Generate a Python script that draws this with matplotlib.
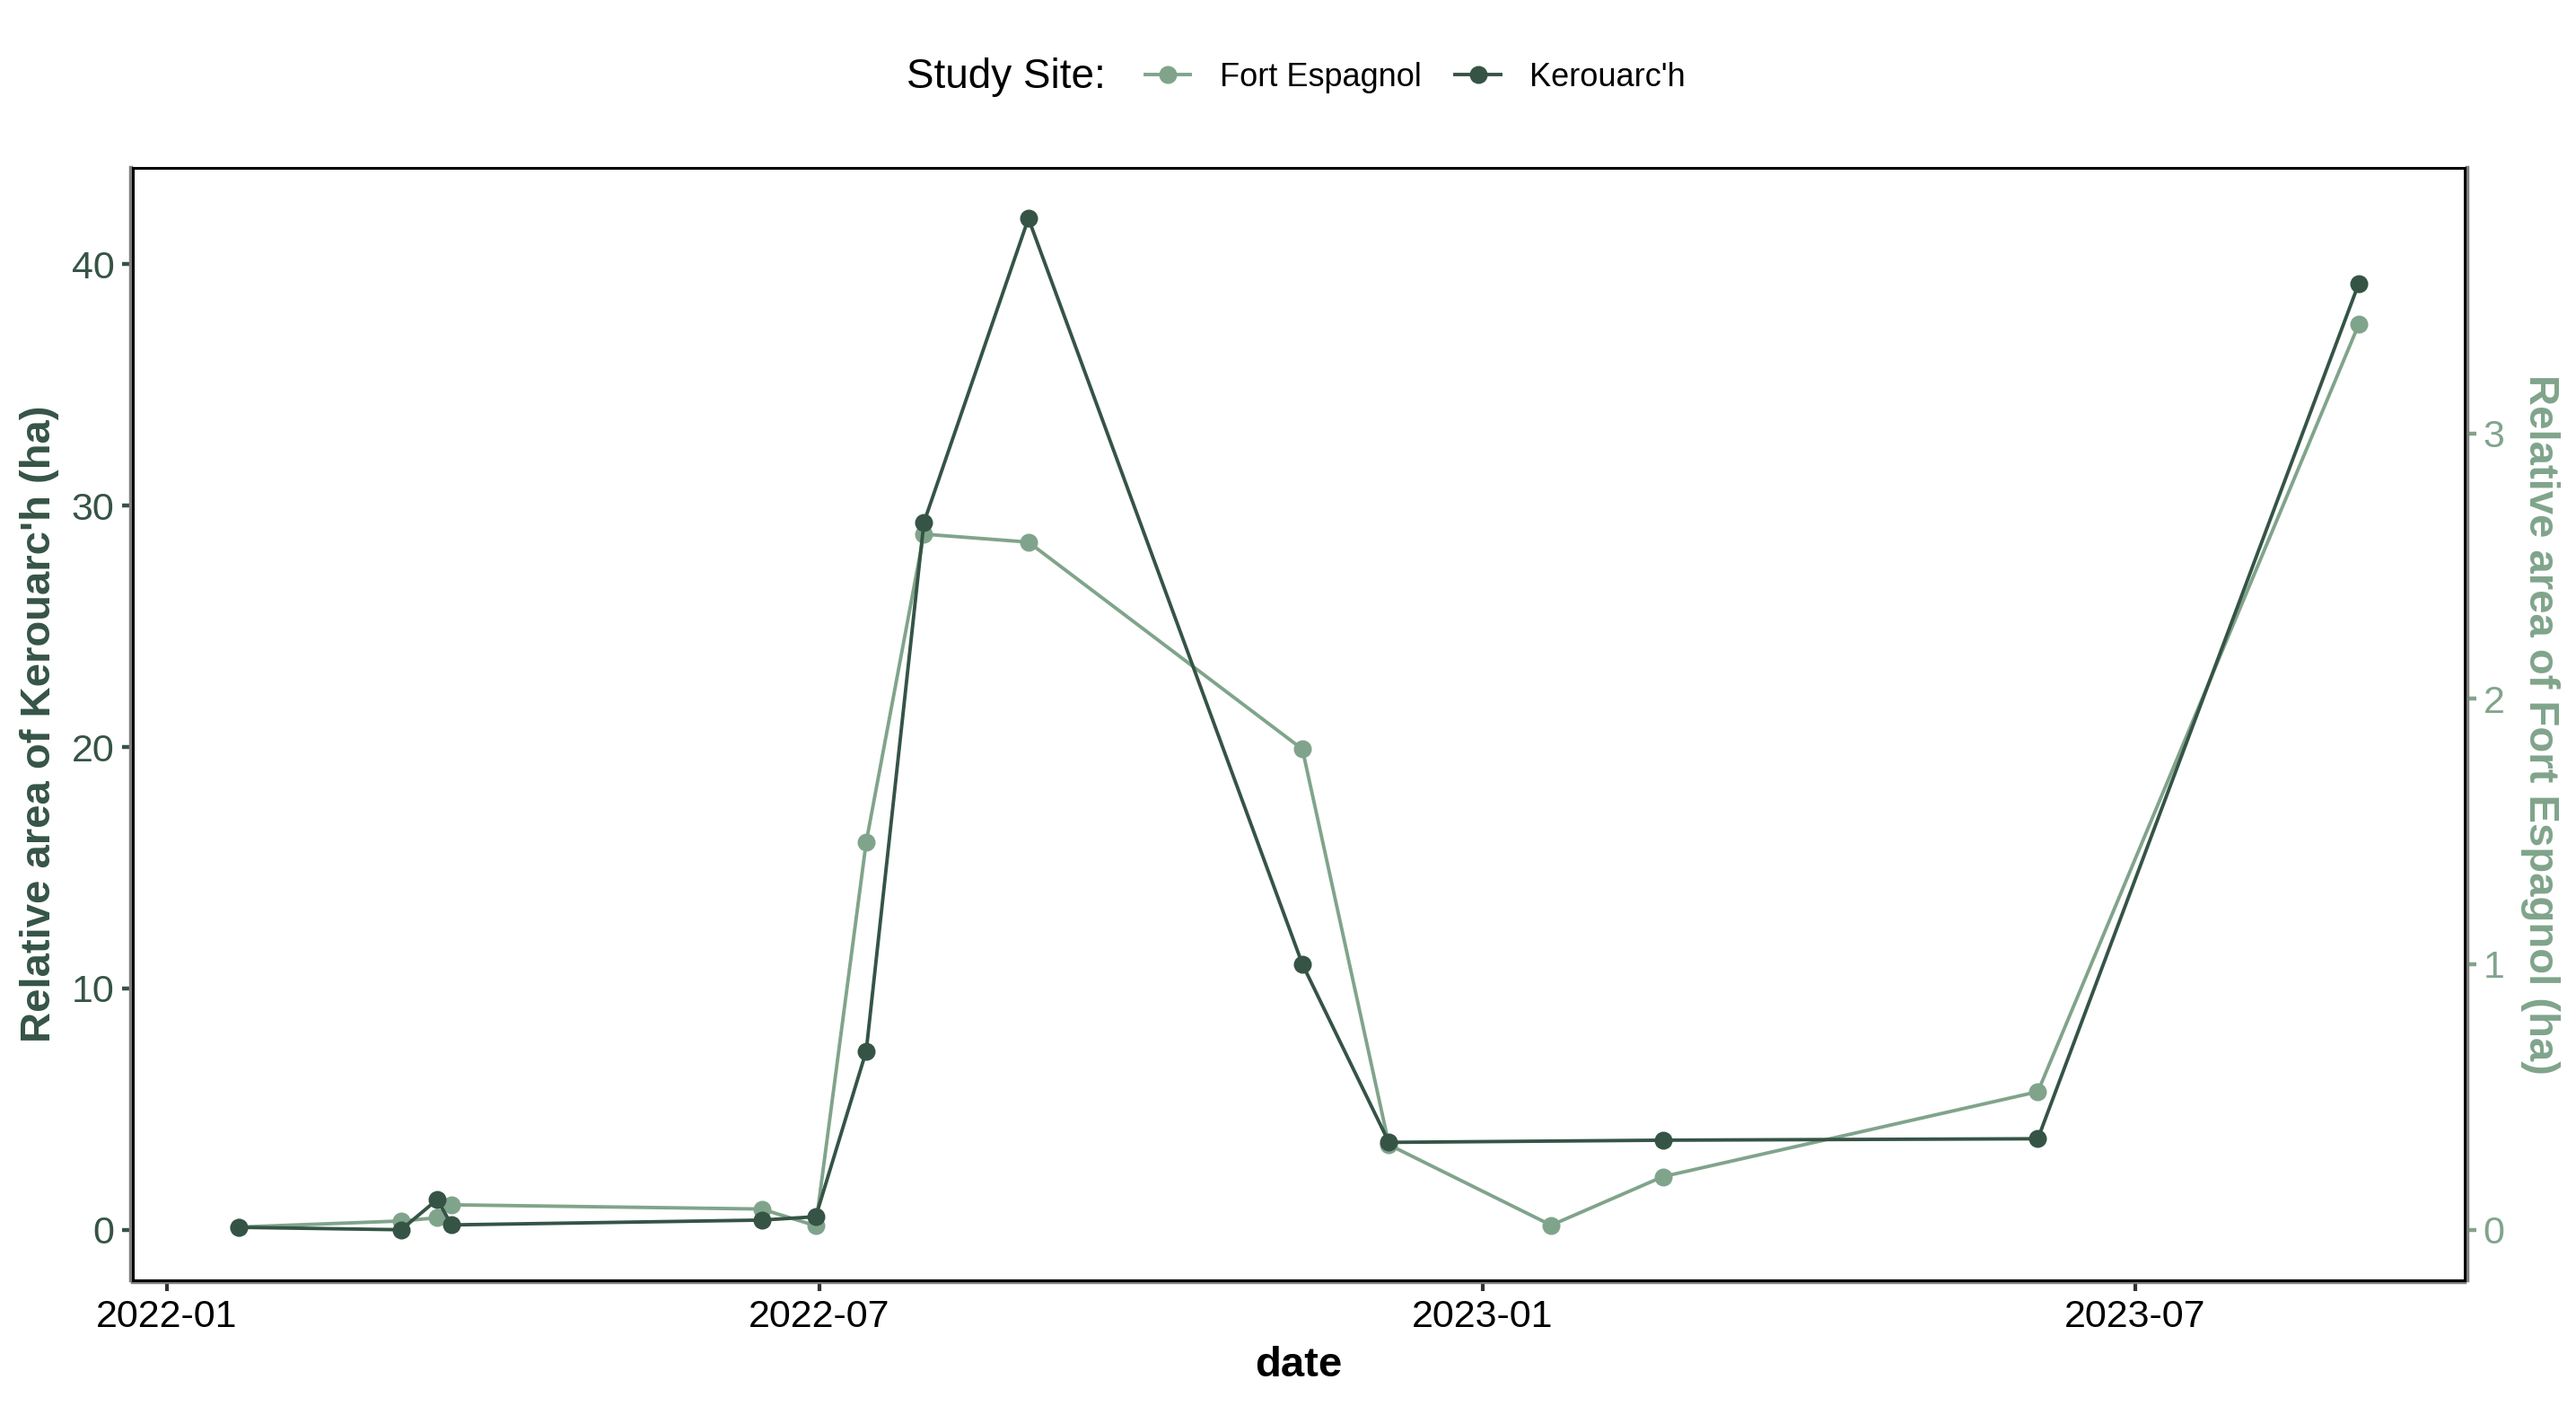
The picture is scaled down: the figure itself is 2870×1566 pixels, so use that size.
import matplotlib
matplotlib.use("Agg")
import matplotlib.pyplot as plt
import matplotlib.dates as mdates
from matplotlib.lines import Line2D
from matplotlib.patches import Rectangle
import numpy as np

plt.rcParams['font.family'] = ['Liberation Sans', 'DejaVu Sans']

# --- data ---
kero_dates = ['2022-01-21', '2022-03-07', '2022-03-17', '2022-03-21', '2022-06-15',
              '2022-06-30', '2022-07-14', '2022-07-30', '2022-08-28', '2022-11-12',
              '2022-12-06', '2023-02-20', '2023-06-04', '2023-09-01']
kero_area = [0.1, 0.0, 1.25, 0.2, 0.4, 0.54, 7.4, 29.3, 41.9, 11.0,
             3.62, 3.71, 3.77, 39.2]

fort_dates = ['2022-01-21', '2022-03-07', '2022-03-17', '2022-03-21', '2022-06-15',
              '2022-06-30', '2022-07-14', '2022-07-30', '2022-08-28', '2022-11-12',
              '2022-12-06', '2023-01-20', '2023-02-20', '2023-06-04', '2023-09-01']
fort_area = [0.01, 0.033, 0.045, 0.094, 0.078, 0.015, 1.46, 2.62, 2.59, 1.81,
             0.32, 0.017, 0.2, 0.52, 3.41]

SCALE = 11  # secondary axis factor (left = right * 11)

DARK = '#355446'
LIGHT = '#80A48B'

kx = np.array(kero_dates, dtype='datetime64[D]')
fx = np.array(fort_dates, dtype='datetime64[D]')

fig = plt.figure(figsize=(14.35, 7.83), dpi=200)
ax = fig.add_axes([0.0516, 0.0894, 0.9052, 0.7912])

ax.plot(fx, np.array(fort_area) * SCALE, '-o', color=LIGHT, lw=1.4, ms=6.2, zorder=2)
ax.plot(kx, kero_area, '-o', color=DARK, lw=1.4, ms=6.2, zorder=3)

ax.margins(x=0.05, y=0.05)
ax.set_yticks([0, 10, 20, 30, 40])
ax.xaxis.set_major_locator(mdates.MonthLocator(bymonth=[1, 7]))
ax.xaxis.set_major_formatter(mdates.DateFormatter('%Y-%m'))

sec = ax.secondary_yaxis('right', functions=(lambda y: y / SCALE, lambda y: y * SCALE))
sec.set_yticks([0, 1, 2, 3])

# frame: gray axis lines just outside + black panel border
for side in ['left', 'bottom']:
    ax.spines[side].set_color('#808080')
    ax.spines[side].set_linewidth(1.6)
    ax.spines[side].set_position(('outward', 0.9))
ax.spines['right'].set_visible(False)
ax.spines['top'].set_visible(False)
sec.spines['right'].set_color('#808080')
sec.spines['right'].set_linewidth(1.6)
sec.spines['right'].set_position(('outward', 0.9))
ax.add_patch(Rectangle((0, 0), 1, 1, transform=ax.transAxes, fill=False,
                       edgecolor='black', lw=1.1, zorder=5, clip_on=False))

ax.tick_params(axis='y', colors=DARK, labelsize=15.5, length=3.5, width=1.6, pad=3)
ax.tick_params(axis='x', colors='#333333', labelcolor='black', labelsize=15.5,
               length=3.5, width=1.5, pad=3)
sec.tick_params(axis='y', colors=LIGHT, labelsize=15.5, length=3.5, width=1.6, pad=3)

ax.set_xlabel('date', fontsize=17, fontweight='bold', labelpad=4.5)
ax.set_ylabel("Relative area of Kerouarc'h (ha)", fontsize=17, fontweight='bold',
              color=DARK, labelpad=5)
sec.set_ylabel('Relative area of Fort Espagnol (ha)', fontsize=17, fontweight='bold',
               color=LIGHT, rotation=270, labelpad=22)

# legend on top
fig.text(0.352, 0.945, 'Study Site:', fontsize=16.5, ha='left', va='center')
handles = [Line2D([], [], color=LIGHT, marker='o', lw=1.4, ms=6.2),
           Line2D([], [], color=DARK, marker='o', lw=1.4, ms=6.2)]
fig.legend(handles, ['Fort Espagnol', "Kerouarc'h"], loc='center left',
           bbox_to_anchor=(0.4445, 0.945), ncol=2, frameon=False, fontsize=13,
           handlelength=1.4, handletextpad=0.9, columnspacing=1.05,
           borderpad=0, borderaxespad=0)

fig.savefig('out.png', dpi=200)
